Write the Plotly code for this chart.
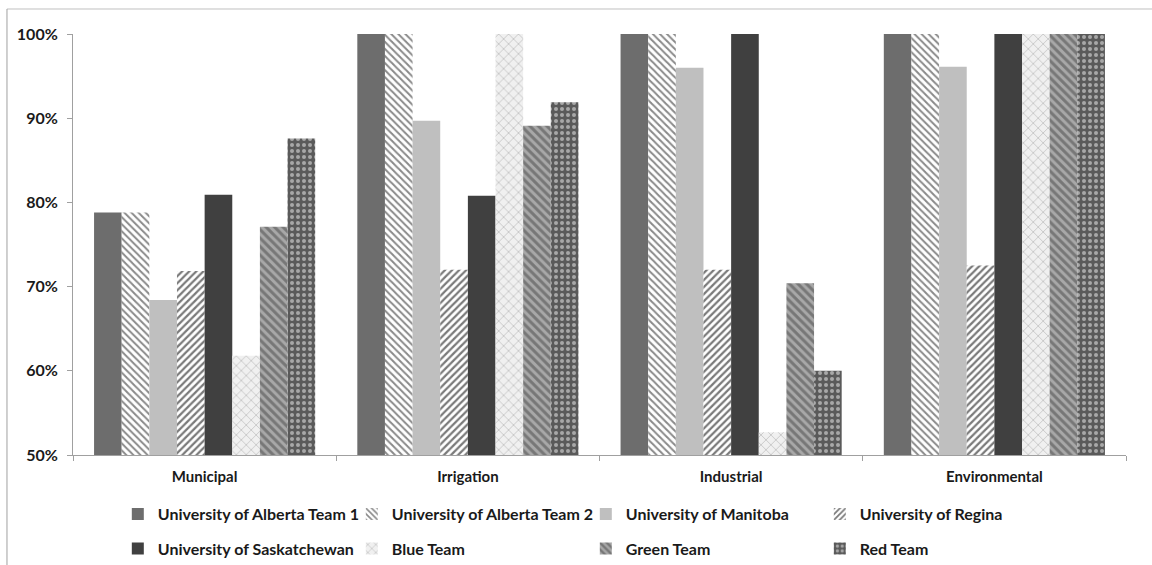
import plotly.graph_objects as go

categories = ["Municipal", "Irrigation", "Industrial", "Environmental"]

teams = [
    "University of Alberta Team 1",
    "University of Alberta Team 2",
    "University of Manitoba",
    "University of Regina",
    "University of Saskatchewan",
    "Blue Team",
    "Green Team",
    "Red Team",
]

alberta_1 = [78.8, 100.0, 100.0, 100.0]
alberta_2 = [78.8, 100.0, 100.0, 100.0]
manitoba = [68.4, 89.7, 96.0, 96.1]
regina = [71.85, 72.0, 72.0, 72.5]
saskatchewan = [80.9, 80.8, 100.0, 100.0]
blue_team = [61.8, 100.0, 52.7, 100.0]
green_team = [77.1, 89.1, 70.4, 100.0]
red_team = [87.6, 91.9, 60.0, 100.0]

series = [alberta_1, alberta_2, manitoba, regina, saskatchewan, blue_team, green_team, red_team]

# fill style per team: (base colour, pattern shape, pattern colour, pattern background, size, solidity)
styles = [
    ("#6d6d6d", "", None, None, None, None),
    ("#ffffff", "\\", "#8a8a8a", "#ffffff", 5, 0.4),
    ("#bfbfbf", "", None, None, None, None),
    ("#ffffff", "/", "#7a7a7a", "#ffffff", 5, 0.45),
    ("#404040", "", None, None, None, None),
    ("#eeeeee", "x", "#c8c8c8", "#f0f0f0", 7, 0.25),
    ("#9a9a9a", "\\", "#777777", "#a8a8a8", 6, 0.5),
    ("#5a5a5a", ".", "#a8a8a8", "#5a5a5a", 6, 0.35),
]

font_family = "Lato, 'Open Sans', sans-serif"

fig = go.Figure()
for i, (name, vals, st) in enumerate(zip(teams, series, styles)):
    color, shape, fg, bg, size, solidity = st
    marker = dict(color=color, line=dict(width=0))
    if shape:
        marker["pattern"] = dict(shape=shape, fgcolor=fg, bgcolor=bg,
                                 size=size, solidity=solidity, fillmode="replace")
    fig.add_trace(go.Bar(
        x=categories,
        y=[v / 100 for v in vals],
        name=name,
        marker=marker,
        legend="legend" if i < 4 else "legend2",
    ))

legend_common = dict(
    orientation="h",
    x=0.487,
    xanchor="center",
    yanchor="middle",
    yref="container",
    entrywidth=189,
    entrywidthmode="pixels",
    font=dict(family=font_family, size=16, color="#1a1a1a", weight="bold"),
    bgcolor="rgba(0,0,0,0)",
)

fig.update_layout(
    width=1152,
    height=565,
    margin=dict(l=73, r=26, t=34, b=110),
    paper_bgcolor="white",
    plot_bgcolor="white",
    barmode="group",
    bargap=0.16,
    bargroupgap=0,
    font=dict(family=font_family, size=15, color="#1a1a1a"),
    showlegend=True,
    legend=dict(legend_common, y=0.090),
    legend2=dict(legend_common, y=0.029),
    xaxis=dict(
        type="category",
        showline=True,
        linecolor="#a0a0a0",
        linewidth=1,
        ticks="outside",
        tickson="boundaries",
        ticklen=5,
        tickcolor="#a0a0a0",
        showgrid=False,
        ticklabelstandoff=8,
        tickfont=dict(family=font_family, size=15, color="#1a1a1a", weight="bold"),
    ),
    yaxis=dict(
        range=[0.5, 1.0],
        tickvals=[0.5, 0.6, 0.7, 0.8, 0.9, 1.0],
        tickformat=".0%",
        showline=True,
        linecolor="#a0a0a0",
        linewidth=1,
        ticks="outside",
        ticklen=5,
        tickcolor="#a0a0a0",
        showgrid=False,
        zeroline=False,
        ticklabelstandoff=6,
        tickfont=dict(family=font_family, size=16, color="#1a1a1a", weight="bold"),
    ),
    shapes=[
        dict(type="line", xref="paper", yref="paper", x0=-0.0627, x1=1.03,
             y0=1.0594, y1=1.0594, line=dict(color="#c0c0c0", width=1)),
        dict(type="line", xref="paper", yref="paper", x0=-0.0627, x1=-0.0627,
             y0=1.0594, y1=-0.27, line=dict(color="#a0a0a0", width=1)),
    ],
)

fig.write_html("out.html")
